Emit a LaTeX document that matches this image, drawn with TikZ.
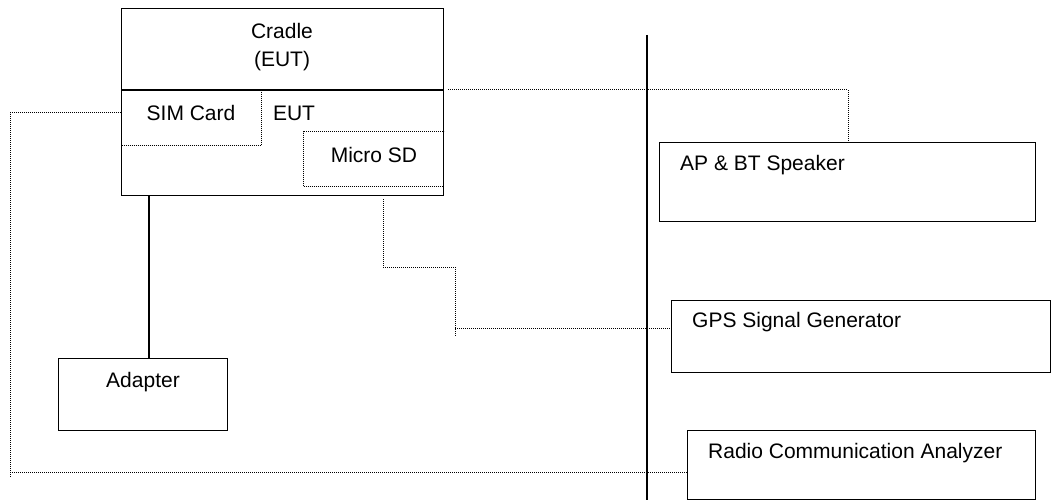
\documentclass[tikz,border=0pt]{standalone}
\usepackage{fontspec}
\setmainfont{Liberation Sans}
\begin{document}
\begin{tikzpicture}[x=1pt,y=-1pt,
  font=\fontsize{21}{28}\selectfont,
  box/.style={draw, line width=1.35pt, inner sep=0pt, anchor=north west},
  dotbox/.style={draw, line width=1pt, dash pattern=on 1pt off 1pt, inner sep=0pt, anchor=north west},
  dotline/.style={line width=1pt, dash pattern=on 1pt off 1pt},
  solid line/.style={line width=1.35pt},
  lbl/.style={inner sep=0pt}]
\useasboundingbox (0,0) rectangle (1051,500);

% Cradle / EUT
\node[box, minimum width=322pt, minimum height=187pt] (cradle) at (121,8) {};
\coordinate (div) at (0,90);
\draw[solid line] (cradle.west |- div) -- (cradle.east |- div);
\node[lbl, align=center] (cradletxt) at (282,47) {Cradle\\(EUT)};
\node[dotbox, minimum width=140pt, minimum height=55pt] (sim) at (121,90) {};
\node[lbl] (simtxt) at (191,113) {SIM Card};
\node[lbl] (euttxt) at (294,113) {EUT};
\node[dotbox, minimum width=140pt, minimum height=55pt] (sd) at (303,131) {};
\node[lbl] (sdtxt) at (374,155) {Micro SD};

% Adapter
\node[box, minimum width=169pt, minimum height=72pt] (adapter) at (58,358) {};
\node[lbl] (adtxt) at (143,382) {Adapter};
\coordinate (aline) at (149,0);
\draw[solid line] (cradle.south -| aline) -- (adapter.north -| aline);

% Divider line
\coordinate (vtop) at (647,35);
\coordinate (vbot) at (647,500);
\draw[solid line] (vtop) -- (vbot);

% Right-hand equipment
\node[box, minimum width=376pt, minimum height=79pt] (ap) at (659,142) {};
\node[lbl, anchor=west] (aptxt) at (680,165) {AP \& BT Speaker};
\node[box, minimum width=379pt, minimum height=72pt] (gps) at (671,300) {};
\node[lbl, anchor=west] (gpstxt) at (692,322) {GPS Signal Generator};
\node[box, minimum width=348pt, minimum height=69pt] (rca) at (687,430) {};
\node[lbl, anchor=west] (rcatxt) at (708,453) {Radio Communication Analyzer};

% Dotted connectors
\coordinate (c1s) at (448,90);
\coordinate (c1c) at (848,90);
\draw[dotline] (c1s) -- (c1c) -- (ap.north -| c1c);

\coordinate (c2a) at (10,113);
\coordinate (c2b) at (10,477);
\coordinate (c2c) at (10,472);
\draw[dotline] (sim.west |- c2a) -- (c2a) -- (c2b);
\draw[dotline] (c2c) -- (rca.west |- c2c);

\coordinate (c3a) at (383,199);
\coordinate (c3b) at (383,267);
\coordinate (c3c) at (455,267);
\coordinate (c3d) at (455,337);
\coordinate (c3e) at (455,328);
\draw[dotline] (c3a) -- (c3b) -- (c3c) -- (c3d);
\draw[dotline] (c3e) -- (gps.west |- c3e);
\end{tikzpicture}
\end{document}
